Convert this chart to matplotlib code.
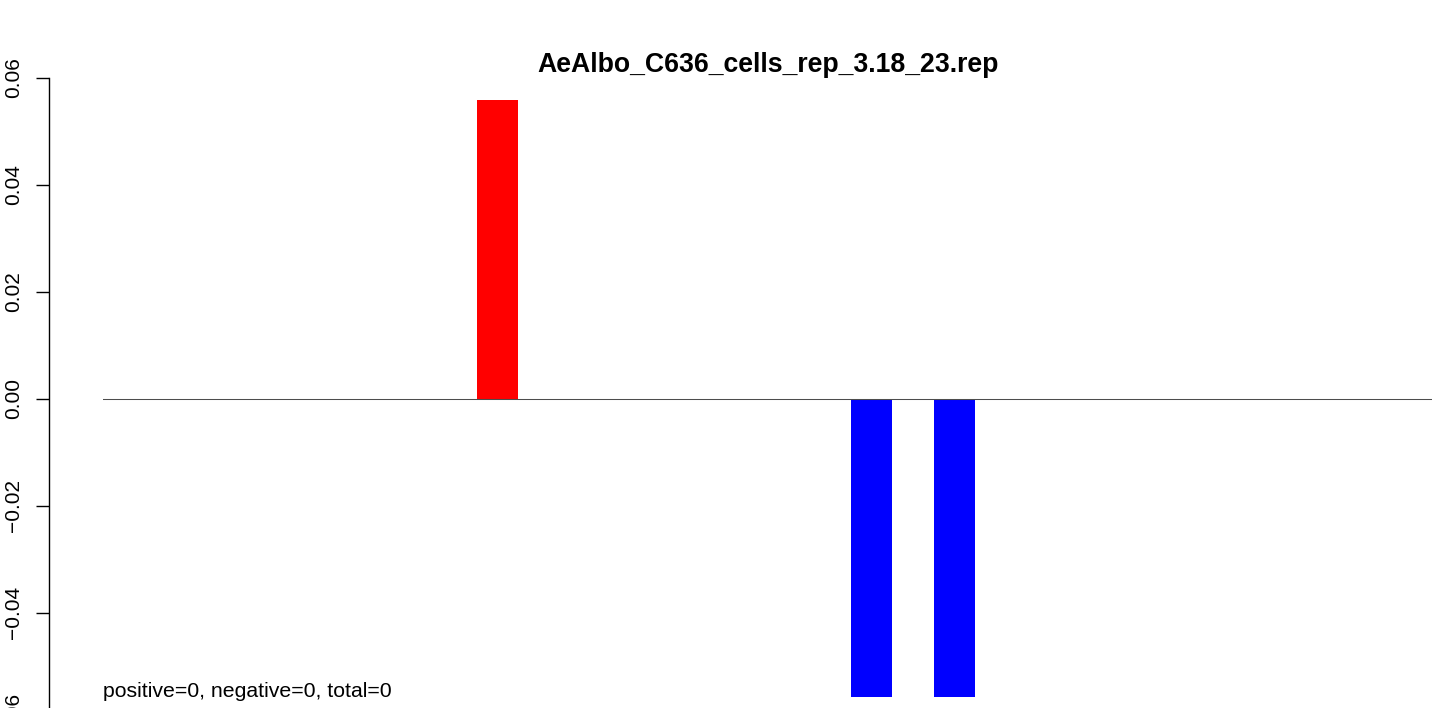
import matplotlib
matplotlib.use("Agg")
import matplotlib.pyplot as plt
from matplotlib.ticker import FixedLocator, FuncFormatter

# data
title = "AeAlbo_C636_cells_rep_3.18_23.rep"
bar_pos = [9, 18, 20]          # slot index of each non-empty bar
bar_vals = [0.0558, -0.0557, -0.0557]
bar_colors = ["#ff0000", "#0000ff", "#0000ff"]
n_slots = 32
y_ticks = [-0.06, -0.04, -0.02, 0.00, 0.02, 0.04, 0.06]
footer = "positive=0, negative=0, total=0"

plt.rcParams['font.family'] = ['Liberation Sans', 'DejaVu Sans']

W, H = 1439, 708
extra = 80  # axes run a bit below the canvas so the -0.06 label is cut off like the original
fig = plt.figure(figsize=(W / 100, H / 100), dpi=100)
ax = fig.add_axes([103 / W, -extra / H, 1329 / W, (H + extra) / H])

ax.bar(bar_pos, bar_vals, width=1, align='edge', color=bar_colors, linewidth=0)
ax.axhline(0, color='#4d4d4d', lw=0.75)

ax.set_xlim(0, n_slots)
ax.set_ylim(-(H + extra - 398.7) / 5350, 398.7 / 5350)

for s in ['top', 'right', 'bottom']:
    ax.spines[s].set_visible(False)
ax.spines['left'].set_position(('outward', 54 * 0.72))
ax.spines['left'].set_bounds(-0.06, 0.06)
ax.spines['left'].set_linewidth(1.0)
ax.set_xticks([])
ax.yaxis.set_major_locator(FixedLocator(y_ticks))
ax.yaxis.set_major_formatter(FuncFormatter(lambda v, p: f"{v:.2f}".replace('-', '\u2212')))
ax.tick_params(axis='y', length=9.4, width=1.0, pad=9, labelsize=15)
for lbl in ax.get_yticklabels():
    lbl.set_rotation(90)
    lbl.set_va('center')

fig.text(768 / W, 1 - 65 / H, title, ha='center', va='center',
         fontsize=19.2, fontweight='bold')
ax.text(1 / 1329, -(697 - 398.7) / 5350, footer, ha='left', va='baseline',
        fontsize=15.3)

fig.savefig("out.png", dpi=100)
